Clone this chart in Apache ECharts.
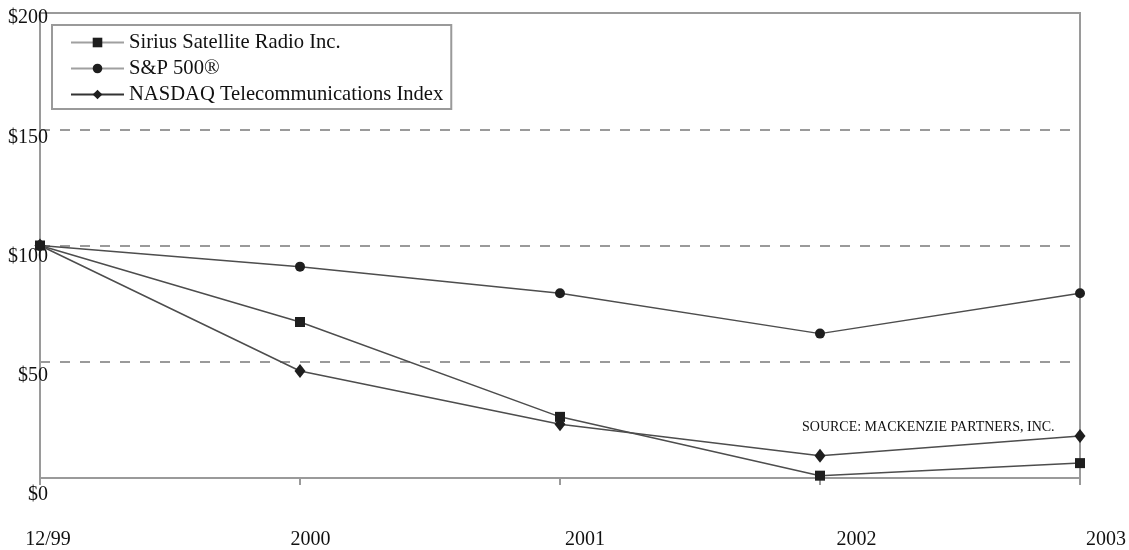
<!DOCTYPE html>
<html>
<head>
<meta charset="utf-8">
<script src="https://cdn.jsdelivr.net/npm/echarts@6/dist/echarts.min.js"></script>
<style>
html,body{margin:0;padding:0;background:#fff;}
#chart{width:1129px;height:550px;}
</style>
</head>
<body>
<div id="chart"></div>
<script>
var categories = ['12/99', '2000', '2001', '2002', '2003'];
var yTicks = [0, 50, 100, 150, 200];
var seriesNames = ['Sirius Satellite Radio Inc.', 'S&P 500\u00AE', 'NASDAQ Telecommunications Index'];
var sirius = [100, 67.1, 26.3, 1.0, 6.4];
var sp500 = [100, 90.9, 79.5, 62.1, 79.5];
var nasdaq = [100, 46.0, 23.1, 9.6, 18.1];
var sourceNote = 'SOURCE: MACKENZIE PARTNERS, INC.';

var FONT = '"Liberation Serif", "Times New Roman", serif';
var GRAY = '#9a9a9a';
var LINE = '#4d4d4d';
var MARK = '#1e1e1e';

// per-label horizontal shifts of the x labels, as in the reference
var xPad = [16, 21, 50, 73, 52];
var xRich = {};
xPad.forEach(function (p, i) {
  xRich['p' + i] = { padding: [0, 0, 0, p], fontSize: 20, fontFamily: FONT, color: '#111' };
});

var chart = echarts.init(document.getElementById('chart'));
chart.setOption({
  animation: false,
  backgroundColor: '#fff',
  title: {
    text: sourceNote,
    left: 802, top: 420, padding: 0,
    textStyle: { fontFamily: FONT, fontSize: 14, fontWeight: 'normal', color: '#111' }
  },
  legend: {
    orient: 'vertical',
    left: 52, top: 25,
    padding: [7, 8, 4, 18],
    itemGap: 5,
    itemWidth: 53,
    itemHeight: 12,
    borderColor: GRAY,
    borderWidth: 2,
    selectedMode: false,
    textStyle: { fontFamily: FONT, fontSize: 20.6, color: '#111', lineHeight: 20 },
    data: [
      { name: seriesNames[0], itemStyle: { color: MARK }, lineStyle: { color: '#a0a0a0', width: 2 } },
      { name: seriesNames[1], itemStyle: { color: MARK }, lineStyle: { color: '#a0a0a0', width: 2 } },
      { name: seriesNames[2], itemStyle: { color: MARK }, lineStyle: { color: '#333', width: 2 } }
    ]
  },
  grid: [
    { left: 40, right: 47, top: 13, bottom: 71, show: true, borderColor: GRAY, borderWidth: 2, backgroundColor: 'transparent' },
    { left: 40, right: 47, top: 18, bottom: 55, show: false }
  ],
  xAxis: [
    {
      type: 'category', gridIndex: 0, data: categories, boundaryGap: false,
      axisLine: { show: true, lineStyle: { color: GRAY, width: 2 } },
      axisTick: { show: true, length: 7, inside: false, alignWithLabel: true, lineStyle: { color: GRAY, width: 2 } },
      axisLabel: {
        margin: 52, interval: 0,
        formatter: function (v, i) { return '{p' + i + '|' + v + '}'; },
        rich: xRich
      },
      splitLine: { show: false }
    },
    { type: 'category', gridIndex: 1, data: categories, show: false }
  ],
  yAxis: [
    {
      type: 'value', gridIndex: 0, min: 0, max: 200, interval: 50,
      axisLine: { show: true, lineStyle: { color: GRAY, width: 2 } },
      axisTick: { show: false },
      axisLabel: { show: false },
      splitLine: { show: true, lineStyle: { color: GRAY, width: 2, type: [10, 10] } }
    },
    {
      type: 'value', gridIndex: 1, min: yTicks[0], max: yTicks[yTicks.length - 1], interval: 50,
      axisLine: { show: false }, axisTick: { show: false }, splitLine: { show: false },
      axisLabel: {
        margin: -8, align: 'right',
        fontFamily: FONT, fontSize: 20, color: '#111',
        formatter: function (v) { return '$' + v; }
      }
    }
  ],
  series: [
    {
      name: seriesNames[0], type: 'line', data: sirius,
      symbol: 'rect', symbolSize: 10, showAllSymbol: true,
      lineStyle: { color: LINE, width: 1.5 }, itemStyle: { color: MARK }
    },
    {
      name: seriesNames[1], type: 'line', data: sp500,
      symbol: 'circle', symbolSize: 10, showAllSymbol: true,
      lineStyle: { color: LINE, width: 1.5 }, itemStyle: { color: MARK }
    },
    {
      name: seriesNames[2], type: 'line', data: nasdaq,
      symbol: 'diamond', symbolSize: [11, 14], showAllSymbol: true,
      lineStyle: { color: LINE, width: 1.5 }, itemStyle: { color: MARK }
    }
  ]
});
</script>
</body>
</html>
